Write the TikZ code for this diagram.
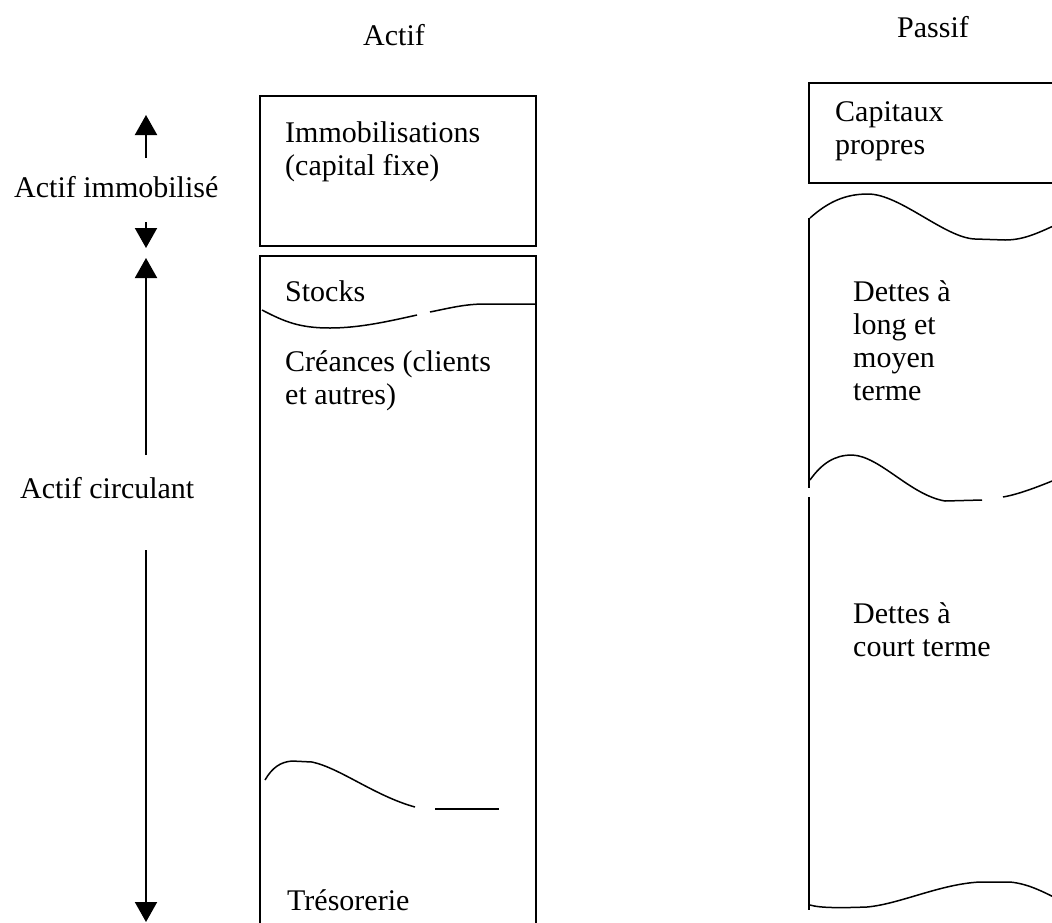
\documentclass[tikz,border=0pt]{standalone}
\usepackage{fontspec}
\setmainfont{Liberation Serif}
\usetikzlibrary{arrows.meta}
\begin{document}
\begin{tikzpicture}[x=1pt,y=-1pt,
  % multi-line labels are placed by the baseline of their last line
  txt/.style={anchor=base west,inner sep=0pt,align=left,
    font=\fontsize{30}{33}\selectfont},
  frame/.style={line width=2pt},
  wave/.style={line width=1.5pt},
  span/.style={line width=2pt,-{Triangle[width=22pt,length=20pt]}}]
\useasboundingbox (0,0) rectangle (1052,922);

% column headings
\node[txt] (actif) at (363,45) {Actif};
\node[txt] (passif) at (897,37) {Passif};

% ---------- assets side ----------
\draw[frame] (260,96) rectangle (536,246);
\node[txt] (immo) at (285,175) {Immobilisations\\(capital fixe)};

\draw[frame] (260,930) -- (260,256) -- (536,256) -- (536,930);
\node[txt] (stocks) at (285,301) {Stocks};
\draw[wave] (262,310) .. controls (285,322) and (300,328) .. (330,328)
  .. controls (360,328) and (390,321) .. (417,315);
\draw[wave] (430,312) .. controls (450,308) and (465,304) .. (485,304) -- (536,304);
\node[txt] (creances) at (285,404) {Créances (clients\\et autres)};
\draw[wave] (265,780) .. controls (272,768) and (280,762) .. (292,761) -- (312,762)
  .. controls (340,768) and (375,796) .. (415,807);
\draw[wave] (435,809) -- (499,809);
\node[txt] (treso) at (287,910) {Trésorerie};

% brackets on the left
\node[txt] (immolabel) at (14,197) {Actif immobilisé};
\node[txt] (circlabel) at (20,498) {Actif circulant};
\coordinate (immoTop) at (146,115);
\coordinate (immoUp) at (146,158);
\coordinate (immoDown) at (146,222);
\coordinate (immoBot) at (146,248);
\coordinate (circTop) at (146,258);
\coordinate (circUp) at (146,455);
\coordinate (circDown) at (146,550);
\coordinate (circBot) at (146,922);
\draw[span] (immoUp) -- (immoTop);
\draw[span] (immoDown) -- (immoBot);
\draw[span] (circUp) -- (circTop);
\draw[span] (circDown) -- (circBot);

% ---------- liabilities side ----------
\draw[frame] (1062,83) -- (809,83) -- (809,183) -- (1062,183);
\node[txt] (capitaux) at (835,154) {Capitaux\\propres};

\draw[wave] (810,218) .. controls (828,202) and (845,194) .. (868,194)
  .. controls (900,194) and (945,238) .. (975,239) -- (1005,240)
  .. controls (1025,240) and (1040,232) .. (1062,222);
\draw[frame] (809,218) -- (809,488);
\node[txt] (dlmt) at (853,400) {Dettes à\\long et\\moyen\\terme};

\draw[wave] (810,480) .. controls (822,463) and (835,455) .. (852,455)
  .. controls (880,456) and (910,495) .. (945,501) -- (982,500);
\draw[wave] (1003,497) .. controls (1020,494) and (1040,486) .. (1062,477);
\draw[frame] (809,497) -- (809,910);
\node[txt] (dct) at (853,656) {Dettes à\\court terme};

\draw[wave] (810,905) .. controls (820,908) and (840,908) .. (867,907)
  .. controls (900,904) and (940,884) .. (980,882) -- (1010,882)
  .. controls (1030,884) and (1045,893) .. (1062,901);
\end{tikzpicture}
\end{document}
